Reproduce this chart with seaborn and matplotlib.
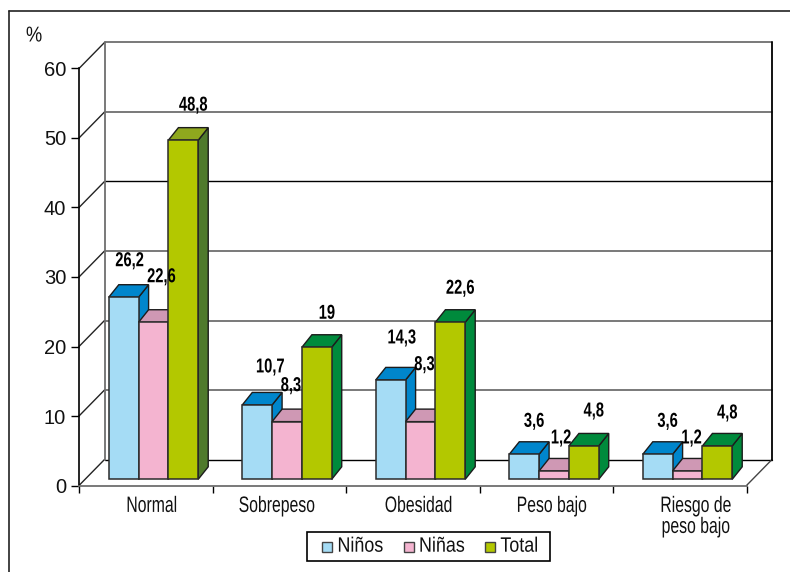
import matplotlib
matplotlib.use("Agg")
import matplotlib.pyplot as plt
import matplotlib.transforms as mtransforms
from matplotlib.legend_handler import HandlerPatch
from matplotlib.lines import Line2D
from matplotlib.patches import Patch, Polygon, Rectangle
from matplotlib.patheffects import AbstractPathEffect
import pandas as pd
import seaborn as sns

# valeurs
categorias = ["Normal", "Sobrepeso", "Obesidad", "Peso bajo", "Riesgo de\npeso bajo"]
ninos = [26.2, 10.7, 14.3, 3.6, 3.6]
ninas = [22.6, 8.3, 8.3, 1.2, 1.2]
total = [48.8, 19, 22.6, 4.8, 4.8]
etiquetas_ninos = ["26,2", "10,7", "14,3", "3,6", "3,6"]
etiquetas_ninas = ["22,6", "8,3", "8,3", "1,2", "1,2"]
etiquetas_total = ["48,8", "19", "22,6", "4,8", "4,8"]
marcas_y = [0, 10, 20, 30, 40, 50, 60]

datos = pd.DataFrame({
    "categoria": categorias * 3,
    "serie": ["Niños"] * 5 + ["Niñas"] * 5 + ["Total"] * 5,
    "valor": ninos + ninas + total,
})

sns.set_theme(style="white")
plt.rcParams["font.family"] = ["Liberation Sans", "DejaVu Sans"]


# le texte de l'original est une police étroite : on resserre le texte à l'horizontale
class Condensar(AbstractPathEffect):
    def __init__(self, factor, ancla="centro"):
        super().__init__()
        self.factor = factor
        self.ancla = ancla

    def draw_path(self, renderer, gc, tpath, affine, rgbFace=None):
        ext = tpath.get_extents(affine)
        x = ext.x0 if self.ancla == "izq" else (ext.x0 + ext.x1) / 2
        t = affine + mtransforms.Affine2D().translate(-x, 0).scale(self.factor, 1).translate(x, 0)
        renderer.draw_path(gc, tpath, t, rgbFace)


ANCHO, ALTO = 790, 572
fig = plt.figure(figsize=(7.9, 5.72), dpi=100)
ax = fig.add_axes([79 / ANCHO, (ALTO - 485.5) / ALTO, 667.5 / ANCHO, 417 / ALTO])


def mover(dx, dy):
    return ax.transData + mtransforms.Affine2D().translate(dx, dy)


colores = {"Niños": "#a5dcf5", "Niñas": "#f4b4d0", "Total": "#b3c800"}
sns.barplot(data=datos, x="categoria", y="valor", hue="serie", order=categorias,
            palette=colores, width=0.67, gap=0, saturation=1, ax=ax,
            edgecolor="#2b2b2b", linewidth=1.1, zorder=3)
ax.set_xlim(-0.5, 4.5)
ax.set_ylim(0, 60)

# paredes del fondo
PROF_X, PROF_Y = 25.5, 26
fondo = mover(PROF_X, PROF_Y)
color_rejilla = ["black", "#6e6e6e", "#6e6e6e", "#6e6e6e", "black", "#6e6e6e", "#6e6e6e"]
ancho_rejilla = [1.0, 1.3, 1.3, 1.3, 1.0, 1.3, 1.3]
for y, c, lw in zip(marcas_y, color_rejilla, ancho_rejilla):
    ax.plot([-0.5, 4.5], [y, y], color=c, lw=lw, transform=fondo, clip_on=False, zorder=1)
    # diagonal de la pared izquierda
    ax.annotate("", xy=(-0.5, y), xytext=(PROF_X, PROF_Y), xycoords="data", textcoords="offset pixels",
                arrowprops=dict(arrowstyle="-", color="#222222", lw=1, shrinkA=0, shrinkB=0), zorder=1)
ax.annotate("", xy=(4.5, 0), xytext=(PROF_X, PROF_Y), xycoords="data", textcoords="offset pixels",
            arrowprops=dict(arrowstyle="-", color="#444444", lw=1, shrinkA=0, shrinkB=0), zorder=1)
ax.plot([-0.5, -0.5], [0, 60], color="#6e6e6e", lw=1.3, transform=fondo, clip_on=False, zorder=1)
ax.plot([4.5, 4.5], [0, 60], color="black", lw=1.3, transform=fondo, clip_on=False, zorder=1)

# caras laterales y superiores de las barras
lado = {"Niños": "#0086cc", "Niñas": "#cf98b4", "Total": "#008a3c"}
arriba = {"Niños": "#0086cc", "Niñas": "#cf98b4", "Total": "#008a3c"}
BASE_X, BASE_Y = 7.75, 6.2
DX = 10 / (667.5 / 5)
DY = 12.5 / (417 / 60)
base = mover(BASE_X, BASE_Y)
for j, (cont, serie) in enumerate(zip(ax.containers, colores)):
    for i, barra in enumerate(cont):
        barra.set_transform(base)
        barra.set_clip_on(False)
        barra.set_zorder(3 + j)
        x0, x1 = barra.get_x(), barra.get_x() + barra.get_width()
        h = barra.get_height()
        c_lado, c_top = lado[serie], arriba[serie]
        if serie == "Total" and i == 0:
            c_lado, c_top = "#4f7a2c", "#8fa81e"
        ax.add_patch(Polygon([(x1, 0), (x1 + DX, DY), (x1 + DX, h + DY), (x1, h)], facecolor=c_lado,
                             edgecolor="#1c1c1c", lw=1, transform=base, clip_on=False, zorder=2.5 + j))
        ax.add_patch(Polygon([(x0, h), (x0 + DX, h + DY), (x1 + DX, h + DY), (x1, h)], facecolor=c_top,
                             edgecolor="#1c1c1c", lw=1, transform=base, clip_on=False, zorder=2.5 + j))

# etiquetas de valores
desp_ninos = [(6, 36.5), (13, 38), (11, 42), (10, 33), (10, 33)]
desp_ninas = [(8, 45.5), (4, 36), (4, 57), (7, 33), (4, 33)]
desp_total = [(10, 35), (10, 34), (10, 34), (10, 35), (10, 33)]
for cont, textos, desps in zip(ax.containers, [etiquetas_ninos, etiquetas_ninas, etiquetas_total],
                               [desp_ninos, desp_ninas, desp_total]):
    for barra, txt, (dx, dy) in zip(cont, textos, desps):
        ax.annotate(txt, xy=(barra.get_x() + barra.get_width() / 2, barra.get_height()),
                    xytext=(dx + BASE_X, dy + BASE_Y), textcoords="offset pixels",
                    ha="center", va="center", fontsize=14.5, fontweight="bold", color="black",
                    annotation_clip=False, zorder=10, path_effects=[Condensar(0.73)])

# ejes
sns.despine(ax=ax, top=True, right=True)
ax.spines["left"].set_color("black")
ax.spines["bottom"].set_color("#6e6e6e")
ax.spines["left"].set_linewidth(1.2)
ax.spines["bottom"].set_linewidth(1.3)
ax.set_xlabel("")
ax.set_ylabel("")
ax.set_yticks(marcas_y)
ax.tick_params(axis="y", length=5.8, width=1, color="black", labelsize=14.5, pad=3.5, left=True, labelcolor="#111111")
ax.set_xticks([-0.5, 0.5, 1.5, 2.5, 3.5, 4.5], [""] * 6)
ax.set_xticks(range(5), categorias, minor=True)
ax.tick_params(axis="x", which="major", length=5, width=1, color="black", bottom=True)
ax.tick_params(axis="x", which="minor", length=0, labelsize=16, pad=7.5, labelcolor="#111111")
desp_cat = [6, -2.5, 6, 5.4, 16]
for lab, dx in zip(ax.get_xticklabels(minor=True), desp_cat):
    lab.set_transform(lab.get_transform() + mtransforms.Affine2D().translate(dx, 0))
    lab.set_linespacing(1.0)
    lab.set_path_effects([Condensar(0.71)])


# leyenda : petit carré collé au texte, à droite de sa case
def cuadrito(legend, orig_handle, xdescent, ydescent, width, height, fontsize):
    return Rectangle((width - xdescent - 7.2, -ydescent - 1), 7.2, 7.2)


manijas = [Patch(facecolor=c, edgecolor="#444444", lw=1, label=s) for s, c in colores.items()]
ley = ax.legend(handles=manijas, ncol=3, loc="upper left",
                bbox_to_anchor=(307 / ANCHO, 1 - 531.5 / ALTO), bbox_transform=fig.transFigure,
                frameon=True, fancybox=False, framealpha=1, edgecolor="black", fontsize=15,
                handlelength=0.96, handleheight=0.6, handletextpad=0.24, columnspacing=0.14,
                borderpad=0.25, borderaxespad=0, labelspacing=0,
                handler_map={Patch: HandlerPatch(patch_func=cuadrito)})
ley.get_frame().set_linewidth(1.2)
ley.set_zorder(20)
for t in ley.get_texts():
    t.set_color("#111111")
    t.set_path_effects([Condensar(0.86, "izq")])

# marco exterior
fig.add_artist(Line2D([9 / ANCHO, 1], [1 - 11 / ALTO] * 2, color="#222222", lw=1.2))
fig.add_artist(Line2D([9 / ANCHO] * 2, [0, 1 - 11 / ALTO], color="#222222", lw=1.2))
fig.text(34 / ANCHO, 1 - 36 / ALTO, "%", fontsize=15.5, ha="center", va="center", color="#111111",
         path_effects=[Condensar(0.85)])

fig.savefig("out.png", dpi=100)
